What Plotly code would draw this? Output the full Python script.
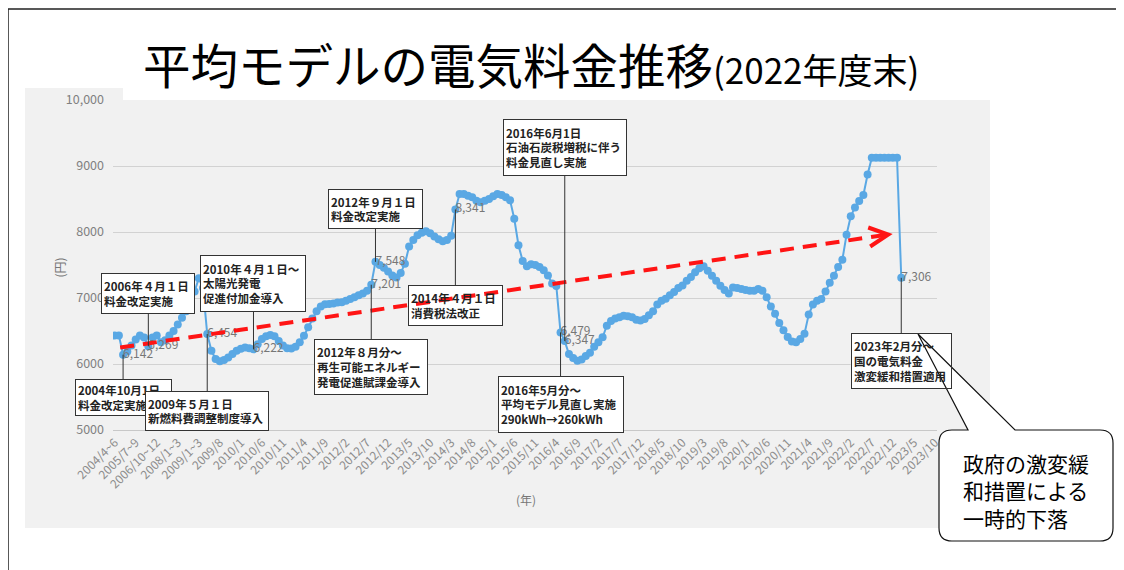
import plotly.graph_objects as go

FONT = "Noto Sans CJK JP"

# ---------------- data ----------------
tick_labels = ["2004/4~6", "2005/7~9", "2006/10~12", "2008/1~3", "2009/1~3",
               "2009/8", "2010/1", "2010/6", "2010/11", "2011/4", "2011/9",
               "2012/2", "2012/7", "2012/12", "2013/5", "2013/10", "2014/3",
               "2014/8", "2015/1", "2015/6", "2015/11", "2016/4", "2016/9",
               "2017/2", "2017/7", "2017/12", "2018/5", "2018/10", "2019/3",
               "2019/8", "2020/1", "2020/6", "2020/11", "2021/4", "2021/9",
               "2022/2", "2022/7", "2022/12", "2023/5", "2023/10"]
TICK_EVERY = 5  # one tick label every 5 periods

# average-model monthly bill (yen), one value per period (quarterly to 2009/1~3, then monthly)
prices = [
    6430, 6430, 6142, 6190, 6280, 6370, 6430, 6400, 6269, 6400,
    6430, 6330, 6360, 6430, 6500, 6600, 6700, 6800, 6940, 7100,
    7300, 7150, 6454, 6200, 6076, 6040, 6060, 6100, 6150, 6200,
    6230, 6250, 6240, 6222, 6300, 6380, 6420, 6440, 6420, 6350,
    6280, 6240, 6235, 6260, 6328, 6429, 6556, 6690, 6800, 6870,
    6905, 6910, 6915, 6930, 6935, 6960, 6985, 7010, 7040, 7070,
    7110, 7201, 7548, 7500, 7460, 7400, 7340, 7310, 7380, 7520,
    7780, 7880, 7950, 7990, 8010, 7980, 7930, 7890, 7860, 7880,
    7944, 8341, 8576, 8576, 8550, 8525, 8474, 8449, 8474, 8500,
    8540, 8576, 8560, 8525, 8480, 8200, 7800, 7560, 7480, 7510,
    7500, 7470, 7420, 7340, 7220, 7180, 6479, 6347, 6150, 6090,
    6050, 6070, 6120, 6170, 6260, 6330, 6404, 6580, 6650, 6690,
    6707, 6730, 6725, 6707, 6670, 6660, 6682, 6740, 6800, 6900,
    6960, 6990, 7040, 7090, 7150, 7190, 7260, 7320, 7390, 7450,
    7480, 7414, 7338, 7263, 7187, 7120, 7070, 7160, 7150, 7136,
    7120, 7111, 7111, 7136, 7111, 7010, 6870, 6760, 6620, 6510,
    6410, 6340, 6328, 6379, 6460, 6750, 6900, 6960, 6985, 7100,
    7230, 7338, 7470, 7580, 7960, 8240, 8370, 8470, 8560, 8870,
    9126, 9126, 9126, 9126, 9126, 9126, 9126, 7306,
]

labelled_points = [2, 8, 22, 33, 61, 62, 81, 106, 107, 187]

events = [
    (2, "2004年10月1日<br>料金改定実施"),
    (8, "2006年４月１日<br>料金改定実施"),
    (22, "2009年５月１日<br>新燃料費調整制度導入"),
    (33, "2010年４月１日～<br>太陽光発電<br>促進付加金導入"),
    (61, "2012年８月分～<br>再生可能エネルギー<br>発電促進賦課金導入"),
    (62, "2012年９月１日<br>料金改定実施"),
    (81, "2014年４月１日<br>消費税法改正"),
    (107, "2016年6月1日<br>石油石炭税増税に伴う<br>料金見直し実施"),
    (106, "2016年5月分～<br>平均モデル見直し実施<br>290kWh→260kWh"),
    (187, "2023年2月分～<br>国の電気料金<br>激変緩和措置適用"),
]

y_ticks = [5000, 6000, 7000, 8000, 9000, 10000]
y_tick_text = ["5000", "6000", "7000", "8000", "9000", "10,000"]

trend_from = (1.3, 6250)
trend_to = (183.9, 7962)

# ---------------- layout geometry (pixels, screen coordinates) ----------------
PAGE_OFF = 8                     # default body margin of the html page
W_FIG, H_FIG = 1124 - PAGE_OFF, 570 - PAGE_OFF
L, T, PW, PH = 113, 100, 824, 330   # plot area on screen
X_RANGE = [-0.4, 195.5]
Y_RANGE = [5000, 10000]

# per-event box: (vertical offset of box centre from point, outer width, outer height)
box_geom = [(43, 97, 37), (-53, 94, 41), (77, 124, 40), (-66, 106, 57),
            (82, 114, 56), (-53, 95, 40), (96, 95, 41), (-194, 124, 57),
            (72, 126, 57), (83, 101, 56)]
BORDERPAD = 2
# boxes whose white base is drawn as a shape so that overlays can cross them
see_through = [81, 187]


def fx(px):
    return (px - L) / PW


def fy(py):
    return (T + PH - py) / PH


def data_to_px(i, v):
    sx = PW / (X_RANGE[1] - X_RANGE[0])
    sy = PH / (Y_RANGE[1] - Y_RANGE[0])
    return L + (i - X_RANGE[0]) * sx, T + PH - (v - Y_RANGE[0]) * sy


fig = go.Figure()

xs = list(range(len(prices)))
fig.add_trace(go.Scatter(
    x=xs, y=prices, mode="lines+markers",
    line=dict(color="#5aa8e4", width=2),
    marker=dict(color="#5aa8e4", size=8),
    hoverinfo="skip", showlegend=False))

fig.add_trace(go.Scatter(
    x=labelled_points, y=[prices[i] for i in labelled_points], mode="text",
    text=[f"{prices[i]:,}" for i in labelled_points],
    textposition="middle right",
    textfont=dict(family=FONT, size=12, color="#777777"),
    hoverinfo="skip", showlegend=False))

shapes = []
# grey chart picture background
shapes.append(dict(type="path", xref="paper", yref="paper", layer="below",
                   path=(f"M {fx(25)},{fy(88)} L {fx(123)},{fy(88)} L {fx(123)},{fy(100)} "
                         f"L {fx(990)},{fy(100)} L {fx(990)},{fy(528)} L {fx(25)},{fy(528)} Z"),
                   fillcolor="#f1f1f1", line=dict(width=0)))
# slide frame
shapes.append(dict(type="path", xref="paper", yref="paper", layer="above",
                   path=(f"M {fx(8)},{fy(580)} L {fx(8)},{fy(9)} L {fx(1117)},{fy(9)} "
                         f"L {fx(1117)},{fy(580)}"),
                   line=dict(color="#222222", width=1.5)))

# white bases under see-through boxes
for k, (idx, _) in enumerate(events):
    if idx in see_through:
        bx, by = data_to_px(idx, prices[idx])
        ayk, wk, hk = box_geom[k]
        shapes.append(dict(type="rect", xref="paper", yref="paper", layer="above",
                           x0=fx(bx - wk / 2), x1=fx(bx + wk / 2),
                           y0=fy(by + ayk + hk / 2), y1=fy(by + ayk - hk / 2),
                           fillcolor="white", line=dict(width=0)))

# red dashed trend arrow
shapes.append(dict(type="line", xref="x", yref="y", layer="above",
                   x0=trend_from[0], y0=trend_from[1], x1=trend_to[0], y1=trend_to[1],
                   line=dict(color="#ff1414", width=4, dash="14px,9px")))
tx, ty = data_to_px(*trend_to)
shapes.append(dict(type="path", xref="paper", yref="paper", layer="above",
                   path=(f"M {fx(tx - 20)},{fy(ty - 7)} L {fx(tx)},{fy(ty)} "
                         f"L {fx(tx - 18)},{fy(ty + 12)}"),
                   line=dict(color="#ff1414", width=4)))

# speech bubble (outline only over the box, white body)
bl, br, bt, bb, r = 939, 1113, 430, 541, 13
apx, apy = 918, 334
bubble = (f"M {fx(bl + r)},{fy(bt)} L {fx(968)},{fy(bt)} L {fx(apx)},{fy(apy)} "
          f"L {fx(1015)},{fy(bt)} L {fx(br - r)},{fy(bt)} "
          f"Q {fx(br)},{fy(bt)} {fx(br)},{fy(bt + r)} L {fx(br)},{fy(bb - r)} "
          f"Q {fx(br)},{fy(bb)} {fx(br - r)},{fy(bb)} L {fx(bl + r)},{fy(bb)} "
          f"Q {fx(bl)},{fy(bb)} {fx(bl)},{fy(bb - r)} L {fx(bl)},{fy(bt + r)} "
          f"Q {fx(bl)},{fy(bt)} {fx(bl + r)},{fy(bt)} Z")
shapes.append(dict(type="path", xref="paper", yref="paper", layer="above",
                   path=bubble, fillcolor="white", line=dict(color="#111111", width=1.2)))

annotations = []
for k, (idx, txt) in enumerate(events):
    ay, w, h = box_geom[k]
    annotations.append(dict(
        x=idx, y=prices[idx], xref="x", yref="y", text=f"<b>{txt}</b>",
        showarrow=True, arrowhead=0, arrowwidth=1, arrowcolor="#333333",
        ax=0, ay=ay, standoff=0, startstandoff=0,
        width=w - 2 * (BORDERPAD + 1), height=h - 2 * (BORDERPAD + 1),
        align="left", valign="middle",
        bgcolor="rgba(0,0,0,0)" if idx in see_through else "white",
        bordercolor="#333333", borderwidth=1, borderpad=BORDERPAD,
        font=dict(family=FONT, size=11.5, color="#222222")))

annotations.append(dict(
    xref="paper", yref="paper", x=fx(141), y=fy(63), xanchor="left", yanchor="middle",
    showarrow=False,
    text="平均モデルの電気料金推移<span style='font-size:35px'>(2022年度末)</span>",
    font=dict(family=FONT, size=47.5, color="#000000")))
annotations.append(dict(
    xref="paper", yref="paper", x=fx(48), y=fy(268), showarrow=False, textangle=-90,
    text="(円)", font=dict(family=FONT, size=12, color="#777777")))
annotations.append(dict(
    xref="paper", yref="paper", x=fx(526), y=fy(510), showarrow=False,
    text="(年)", font=dict(family=FONT, size=12, color="#777777")))
annotations.append(dict(
    xref="paper", yref="paper", x=fx(961), y=fy(490), xanchor="left", yanchor="middle",
    showarrow=False, align="left",
    text="政府の激変緩<br>和措置による<br>一時的下落",
    font=dict(family=FONT, size=21, color="#000000")))

fig.update_layout(
    width=W_FIG, height=H_FIG,
    margin=dict(l=L - PAGE_OFF, r=W_FIG - (L - PAGE_OFF) - PW,
                t=T - PAGE_OFF, b=H_FIG - (T - PAGE_OFF) - PH),
    paper_bgcolor="white", plot_bgcolor="rgba(0,0,0,0)",
    shapes=shapes, annotations=annotations,
    xaxis=dict(range=X_RANGE, tickmode="array",
               tickvals=[i * TICK_EVERY for i in range(len(tick_labels))],
               ticktext=tick_labels, tickangle=-45,
               tickfont=dict(family=FONT, size=12, color="#8c8c8c"),
               showgrid=False, zeroline=False, showline=True,
               linecolor="#c8c8c8", linewidth=1, ticks=""),
    yaxis=dict(range=Y_RANGE, tickmode="array", tickvals=y_ticks, ticktext=y_tick_text,
               tickfont=dict(family=FONT, size=12.5, color="#808080"),
               showgrid=True, gridcolor="#d2d2d2", gridwidth=1,
               zeroline=False, showline=False, ticks="", ticklabelstandoff=8),
)

fig.write_html("out.html")
